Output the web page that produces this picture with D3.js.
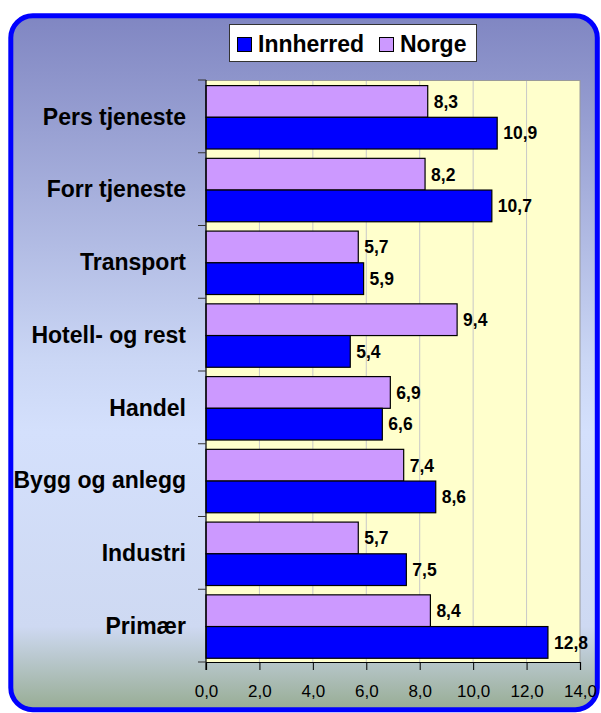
<!DOCTYPE html>
<html>
<head>
<meta charset="utf-8">
<script src="https://cdn.jsdelivr.net/npm/d3@7"></script>
<style>
  html, body { margin: 0; padding: 0; background: #ffffff; }
  svg { display: block; font-family: "Liberation Sans", Arial, sans-serif; }
</style>
</head>
<body>
<svg id="chart" width="601" height="713"></svg>
<script>
// Sysselsetting etter næring, Innherred og Norge (prosent)
const categories = ["Pers tjeneste", "Forr tjeneste", "Transport", "Hotell- og rest",
                    "Handel", "Bygg og anlegg", "Industri", "Primær"];
const seriesNames = ["Norge", "Innherred"];
const norge     = [8.3, 8.2, 5.7, 9.4, 6.9, 7.4, 5.7, 8.4];
const innherred = [10.9, 10.7, 5.9, 5.4, 6.6, 8.6, 7.5, 12.8];
const xTicks = [0, 2, 4, 6, 8, 10, 12, 14];
const legendOrder = ["Innherred", "Norge"];

const colors = { "Innherred": "#0000FF", "Norge": "#CC99FF" };
const seriesValues = { "Norge": norge, "Innherred": innherred };

const locale = d3.formatLocale({ decimal: ",", thousands: " ", grouping: [3], currency: ["", ""] });
const fmt = locale.format(".1f");

const svg = d3.select("#chart");

// Background panel with gradient and rounded blue frame
const defs = svg.append("defs");
const grad = defs.append("linearGradient")
  .attr("id", "bg").attr("x1", 0).attr("y1", 0).attr("x2", 0).attr("y2", 1);
[[0, "#8086C2"], [0.5, "#CBD7F5"], [0.6, "#D4E0FC"], [0.88, "#CED9F2"], [1, "#97AC93"]]
  .forEach(([o, c]) => grad.append("stop").attr("offset", o).attr("stop-color", c));

svg.append("rect")
  .attr("x", 10.8).attr("y", 15.8).attr("width", 586.5).attr("height", 694)
  .attr("rx", 22).attr("ry", 22)
  .attr("fill", "url(#bg)")
  .attr("stroke", "#0000FF").attr("stroke-width", 5);

// Plot geometry
const plot = { left: 206, right: 580, top: 80, bottom: 662 };

const x = d3.scaleLinear().domain([0, 14]).range([plot.left, plot.right]);
const y = d3.scaleBand().domain(categories).range([plot.top, plot.bottom]).padding(0);
const ySeries = d3.scaleBand().domain(seriesNames).range([0, y.bandwidth()])
  .paddingInner(0).paddingOuter(0.147).align(0.6);

// Plot area
svg.append("rect")
  .attr("x", plot.left).attr("y", plot.top)
  .attr("width", plot.right - plot.left).attr("height", plot.bottom - plot.top)
  .attr("fill", "#FFFFCC");

// Vertical gridlines
svg.append("g").selectAll("line")
  .data(xTicks.filter(t => t > 0))
  .join("line")
  .attr("x1", d => x(d)).attr("x2", d => x(d))
  .attr("y1", plot.top).attr("y2", plot.bottom)
  .attr("stroke", d => d === 14 ? "#9A9A9A" : "#C8C8C8")
  .attr("stroke-width", 1);

// Top border of plot area
svg.append("line")
  .attr("x1", plot.left).attr("x2", plot.right)
  .attr("y1", plot.top + 0.5).attr("y2", plot.top + 0.5)
  .attr("stroke", "#9A9A9A");

// Bars
const groups = svg.append("g").selectAll("g")
  .data(categories)
  .join("g")
  .attr("transform", d => `translate(0,${y(d)})`);

groups.selectAll("rect")
  .data((c, i) => seriesNames.map(s => ({ s, v: seriesValues[s][i] })))
  .join("rect")
  .attr("x", x(0))
  .attr("y", d => ySeries(d.s))
  .attr("width", d => x(d.v) - x(0))
  .attr("height", ySeries.bandwidth())
  .attr("fill", d => colors[d.s])
  .attr("stroke", "#000")
  .attr("stroke-width", 1.2);

groups.selectAll("text")
  .data((c, i) => seriesNames.map(s => ({ s, v: seriesValues[s][i] })))
  .join("text")
  .attr("x", d => x(d.v) + 6)
  .attr("y", d => ySeries(d.s) + ySeries.bandwidth() / 2)
  .attr("dy", "0.36em")
  .attr("font-size", 17.5)
  .attr("font-weight", "bold")
  .attr("fill", "#000")
  .text(d => fmt(d.v));

// X axis
const xAxis = d3.axisBottom(x)
  .tickValues(xTicks)
  .tickFormat(d => fmt(d))
  .tickSize(8)
  .tickPadding(15);

const gx = svg.append("g")
  .attr("transform", `translate(0,${plot.bottom})`)
  .call(xAxis);
gx.select(".domain").attr("stroke", "#000").attr("stroke-width", 1.2);
gx.selectAll(".tick line").attr("stroke", "#000");
gx.selectAll(".tick text")
  .attr("font-size", 17)
  .attr("font-family", "Liberation Sans, Arial, sans-serif")
  .attr("fill", "#000");

// Y axis: line with tick marks at category boundaries
svg.append("line")
  .attr("x1", plot.left).attr("x2", plot.left)
  .attr("y1", plot.top).attr("y2", plot.bottom + 8)
  .attr("stroke", "#000").attr("stroke-width", 1.2);

const boundaries = categories.map(c => y(c)).concat([plot.bottom]);
svg.append("g").selectAll("line")
  .data(boundaries)
  .join("line")
  .attr("x1", plot.left - 8).attr("x2", plot.left)
  .attr("y1", d => d).attr("y2", d => d)
  .attr("stroke", "#333").attr("stroke-width", 1);

// Category labels
svg.append("g").selectAll("text")
  .data(categories)
  .join("text")
  .attr("x", 186)
  .attr("y", d => y(d) + y.bandwidth() / 2)
  .attr("dy", "0.36em")
  .attr("text-anchor", "end")
  .attr("font-size", 23)
  .attr("font-weight", "bold")
  .attr("fill", "#000")
  .text(d => d);

// Legend
const legend = svg.append("g");
legend.append("rect")
  .attr("x", 229.5).attr("y", 24.5).attr("width", 247).attr("height", 37)
  .attr("fill", "#fff").attr("stroke", "#333").attr("stroke-width", 1);

const legendPos = { "Innherred": 237, "Norge": 379 };
const li = legend.selectAll("g.item")
  .data(legendOrder)
  .join("g").attr("class", "item")
  .attr("transform", d => `translate(${legendPos[d]},0)`);
li.append("rect")
  .attr("x", 0.5).attr("y", 37.5).attr("width", 14).attr("height", 14)
  .attr("fill", d => colors[d]).attr("stroke", "#000").attr("stroke-width", 1);
li.append("text")
  .attr("x", 21).attr("y", 52)
  .attr("font-size", 23)
  .attr("font-weight", "bold")
  .attr("fill", "#000")
  .text(d => d);
</script>
</body>
</html>
